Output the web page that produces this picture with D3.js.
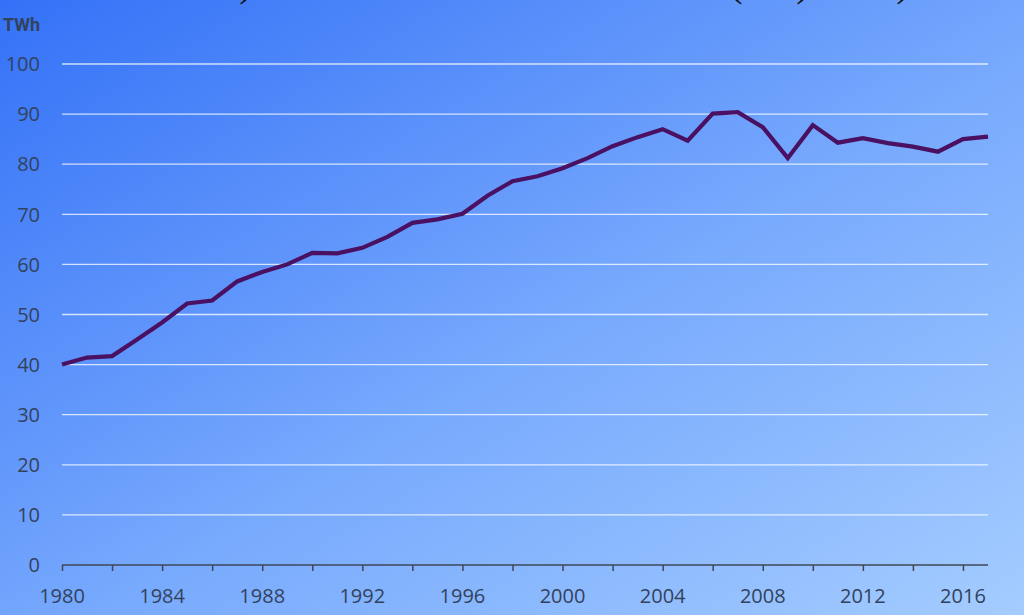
<!DOCTYPE html>
<html>
<head>
<meta charset="utf-8">
<script src="https://cdn.jsdelivr.net/npm/d3@7"></script>
<style>
  html, body { margin: 0; padding: 0; overflow: hidden; }
  svg { display: block; }
</style>
</head>
<body>
<div id="chart"></div>
<script>
// Data
const years = d3.range(1980, 2018);
const twh = [
  40.0, 41.4, 41.7, 45.0, 48.4, 52.2, 52.8, 56.6, 58.5, 60.0,
  62.3, 62.2, 63.3, 65.5, 68.3, 69.0, 70.1, 73.7, 76.6, 77.6,
  79.2, 81.2, 83.6, 85.4, 87.0, 84.7, 90.1, 90.4, 87.4, 81.2,
  87.8, 84.3, 85.2, 84.2, 83.5, 82.5, 85.0, 85.5
];
const yTicks = [0, 10, 20, 30, 40, 50, 60, 70, 80, 90, 100];
const xLabelYears = [1980, 1984, 1988, 1992, 1996, 2000, 2004, 2008, 2012, 2016];
const unitLabel = "TWh";

const data = years.map((y, i) => ({ year: y, value: twh[i] }));

const width = 1024, height = 615;
const margin = { left: 62, right: 36, top: 64, bottom: 50 };

const svg = d3.select("#chart")
  .append("svg")
  .attr("width", width)
  .attr("height", height);

// fundo em gradiente diagonal
const grad = svg.append("defs").append("linearGradient")
  .attr("id", "bg")
  .attr("x1", "0%").attr("y1", "0%")
  .attr("x2", "100%").attr("y2", "100%");
grad.append("stop").attr("offset", "0%").attr("stop-color", "#3471f7");
grad.append("stop").attr("offset", "55%").attr("stop-color", "#78aafd");
grad.append("stop").attr("offset", "100%").attr("stop-color", "#a4ccff");

svg.append("rect")
  .attr("width", width)
  .attr("height", height)
  .attr("fill", "url(#bg)");

// titulo cortado no topo (so aparecem os parenteses)
svg.selectAll("text.cut")
  .data([{ x: 246, t: ")" }, { x: 736, t: "(" }, { x: 803, t: ")" }, { x: 903, t: ")" }])
  .enter()
  .append("text")
  .attr("class", "cut")
  .attr("x", d => d.x)
  .attr("y", -4)
  .attr("font-family", "Liberation Serif, serif")
  .attr("font-size", 40)
  .attr("fill", "#111")
  .attr("text-anchor", "middle")
  .text(d => d.t);

const x = d3.scaleLinear()
  .domain([1980, 2017])
  .range([margin.left, width - margin.right]);

const y = d3.scaleLinear()
  .domain([0, 100])
  .range([height - margin.bottom, margin.top]);

// linhas de grelha
svg.append("g")
  .selectAll("line")
  .data(yTicks.filter(d => d > 0))
  .enter()
  .append("line")
  .attr("x1", x(1980))
  .attr("x2", x(2017))
  .attr("y1", d => y(d))
  .attr("y2", d => y(d))
  .attr("stroke", "#ffffff")
  .attr("stroke-opacity", 0.75)
  .attr("stroke-width", 1.3);

// etiquetas do eixo y
svg.append("g")
  .selectAll("text")
  .data(yTicks)
  .enter()
  .append("text")
  .attr("x", 40)
  .attr("y", d => y(d))
  .attr("dy", "0.36em")
  .attr("text-anchor", "end")
  .attr("font-family", "Open Sans, sans-serif")
  .attr("font-size", 20)
  .attr("fill", "#33425c")
  .text(d => d);

svg.append("text")
  .attr("x", 3)
  .attr("y", 31)
  .attr("font-family", "Liberation Sans Narrow, Roboto, sans-serif")
  .attr("font-weight", "bold")
  .attr("font-size", 18)
  .attr("fill", "#33425c")
  .text(unitLabel);

// eixo x
const xAxis = d3.axisBottom(x)
  .tickValues(d3.range(1980, 2018, 2))
  .tickSize(6)
  .tickFormat("");

const gx = svg.append("g")
  .attr("transform", `translate(0,${y(0)})`)
  .call(xAxis);
gx.select(".domain")
  .attr("d", `M${x(1980)},0H${x(2017)}`)
  .attr("stroke", "#3e4757")
  .attr("stroke-width", 1.5);
gx.selectAll(".tick line")
  .attr("stroke", "#3e4757")
  .attr("stroke-width", 1.5);

svg.append("g")
  .selectAll("text")
  .data(xLabelYears)
  .enter()
  .append("text")
  .attr("x", d => x(d))
  .attr("y", 603)
  .attr("text-anchor", "middle")
  .attr("font-family", "Open Sans, sans-serif")
  .attr("font-size", 20)
  .attr("fill", "#33425c")
  .text(d => d);

// a linha
const line = d3.line()
  .x(d => x(d.year))
  .y(d => y(d.value));

svg.append("path")
  .datum(data)
  .attr("d", line)
  .attr("fill", "none")
  .attr("stroke", "#4a1162")
  .attr("stroke-width", 4.2)
  .attr("stroke-linejoin", "miter");
</script>
</body>
</html>
